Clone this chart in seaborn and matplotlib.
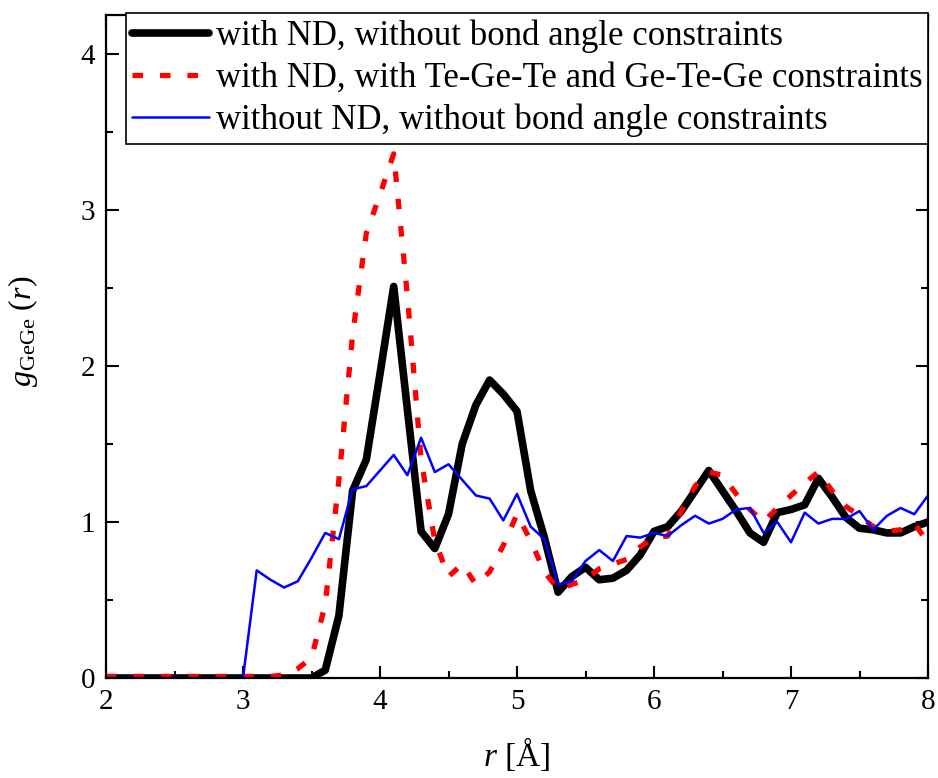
import numpy as np
import matplotlib
matplotlib.use("Agg")
import matplotlib.pyplot as plt
import seaborn as sns
from matplotlib.ticker import MultipleLocator

r = np.round(np.arange(2.0, 8.0001, 0.1), 1)

g_nd_free = [0, 0, 0, 0, 0, 0, 0, 0, 0, 0, 0, 0, 0, 0, 0, 0,
             0.05, 0.4, 1.2, 1.4, 1.95, 2.51, 1.72, 0.94, 0.83, 1.05,
             1.5, 1.75, 1.91, 1.82, 1.71, 1.2, 0.9, 0.55, 0.65, 0.71,
             0.63, 0.64, 0.69, 0.79, 0.94, 0.97, 1.07, 1.2, 1.33, 1.2,
             1.07, 0.93, 0.87, 1.06, 1.08, 1.11, 1.28, 1.16, 1.03, 0.96,
             0.95, 0.93, 0.93, 0.97, 1.0]

g_nd_angle = [0.01, 0.01, 0.01, 0.01, 0.01, 0.01, 0.01, 0.01, 0.01, 0.01,
              0.01, 0.01, 0.01, 0.02, 0.06, 0.13,
              0.47, 1.27, 2.2, 2.85, 3.1, 3.36, 2.45, 1.4, 0.88, 0.65,
              0.73, 0.6, 0.68, 0.85, 1.05, 0.88, 0.68, 0.57, 0.6, 0.63,
              0.7, 0.73, 0.76, 0.84, 0.9, 0.91, 1.07, 1.23, 1.32, 1.3,
              1.18, 1.08, 1.0, 1.09, 1.17, 1.25, 1.32, 1.2, 1.1, 1.04,
              0.97, 0.94, 0.95, 0.99, 0.87]

g_no_nd = [0, 0, 0, 0, 0, 0, 0, 0, 0, 0, 0,
           0.69, 0.63, 0.58, 0.62, 0.77, 0.93, 0.89, 1.21, 1.23, 1.33,
           1.43, 1.3, 1.54, 1.32, 1.37, 1.27, 1.17, 1.15, 1.01, 1.18,
           0.97, 0.89, 0.6, 0.62, 0.75, 0.82, 0.75, 0.91, 0.9, 0.93,
           0.91, 0.98, 1.04, 0.99, 1.02, 1.08, 1.09, 0.93, 1.0, 0.87,
           1.06, 0.99, 1.02, 1.02, 1.07, 0.95, 1.04, 1.09, 1.05, 1.17]

labels = ["with ND, without bond angle constraints",
          "with ND, with Te-Ge-Te and Ge-Te-Ge constraints",
          "without ND, without bond angle constraints"]

sns.set_style("ticks")
plt.rcParams["font.family"] = ["Liberation Serif", "DejaVu Serif"]
plt.rcParams["mathtext.fontset"] = "custom"
plt.rcParams["mathtext.rm"] = "Liberation Serif"
plt.rcParams["mathtext.it"] = "Liberation Serif:italic"
for k in ["text.color", "axes.labelcolor", "xtick.color", "ytick.color"]:
    plt.rcParams[k] = "black"

fig = plt.figure(figsize=(9.38, 7.78), dpi=100)
ax = fig.add_axes([106/938, 100/778, 822/938, 663/778])

sns.lineplot(x=r, y=g_nd_free, ax=ax, color="black", lw=5.5, label=labels[0])
sns.lineplot(x=r, y=g_nd_angle, ax=ax, color="#ff0000", lw=3.8, label=labels[1])
sns.lineplot(x=r, y=g_no_nd, ax=ax, color="#0000ff", lw=1.8, label=labels[2])
ax.lines[1].set_dashes([2.0, 3.2])
ax.lines[1].set_dash_capstyle("butt")

ax.set_xlim(2, 8)
ax.set_ylim(0, 4.25)
ax.xaxis.set_major_locator(MultipleLocator(1))
ax.xaxis.set_minor_locator(MultipleLocator(0.5))
ax.yaxis.set_major_locator(MultipleLocator(1))
ax.yaxis.set_minor_locator(MultipleLocator(0.5))
ax.tick_params(which="both", direction="in", top=True, right=True,
               width=1.5, labelsize=21, pad=8)
ax.tick_params(which="major", length=9)
ax.tick_params(which="minor", length=5)
for s in ax.spines.values():
    s.set_linewidth(1.6)
    s.set_color("black")

ax.set_xlabel(r"$r$ [Å]", fontsize=24, labelpad=14)
ax.set_ylabel(r"$g_{\mathrm{GeGe}}$ ($r$)", fontsize=23)
ax.yaxis.set_label_coords(-0.080, 0.523)

leg = ax.legend(loc="upper left", bbox_to_anchor=(20/822, 1.003), borderaxespad=0,
                fontsize=25, frameon=True, fancybox=False, framealpha=1,
                edgecolor="black", handlelength=2.2, labelspacing=0.26,
                handletextpad=0.2, borderpad=0.18)
leg.get_frame().set_linewidth(1.2)

fig.savefig("out.png", dpi=100)
